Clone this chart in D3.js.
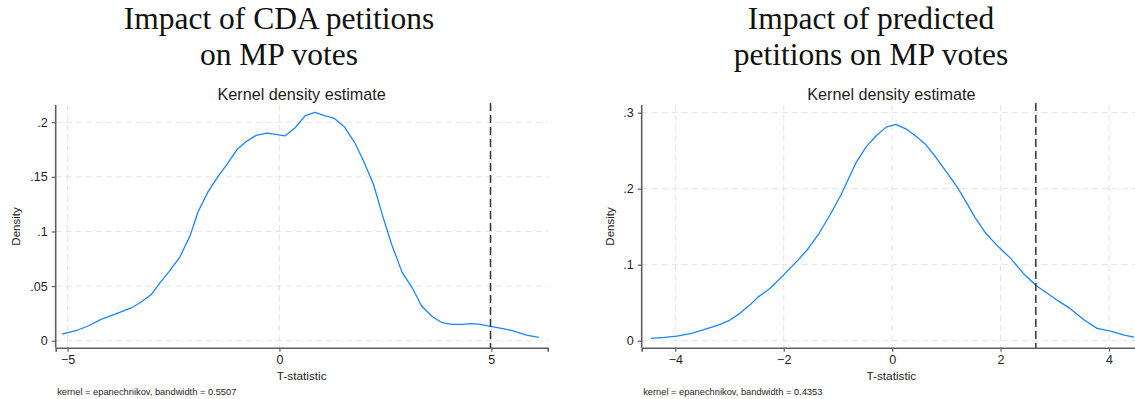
<!DOCTYPE html>
<html>
<head>
<meta charset="utf-8">
<script src="https://cdn.jsdelivr.net/npm/d3@7"></script>
<style>
  html, body { margin: 0; padding: 0; background: #fff; }
  svg { display: block; }
  .sans { font-family: "Liberation Sans", Arial, Helvetica, sans-serif; fill: #1e1e1e; }
  .serif { font-family: "Liberation Serif", "Times New Roman", serif; fill: #111; }
</style>
</head>
<body>
<svg id="chart" width="1135" height="399"></svg>
<script>
// Kernel density of the t-statistics, CDA petitions
const cdaT = [-5.13, -4.76, -4.50, -4.21, -3.83, -3.50, -3.29, -3.03, -2.82, -2.61, -2.36, -2.11, -1.92,
  -1.69, -1.44, -1.23, -0.99, -0.76, -0.55, -0.30, -0.09, 0.13, 0.37, 0.61, 0.84, 1.06, 1.29, 1.53,
  1.78, 1.98, 2.22, 2.43, 2.64, 2.89, 3.14, 3.35, 3.61, 3.84, 4.07, 4.32, 4.53, 4.74, 4.95, 5.24,
  5.50, 5.83, 6.12];
const cdaDensity = [0.0061, 0.0098, 0.0137, 0.0195, 0.0250, 0.0300, 0.0348, 0.0420, 0.0530, 0.0630,
  0.0760, 0.0960, 0.1180, 0.1360, 0.1510, 0.1620, 0.1756, 0.1830, 0.1880, 0.1900, 0.1890, 0.1875,
  0.1950, 0.2060, 0.2090, 0.2060, 0.2037, 0.1960, 0.1810, 0.1650, 0.1430, 0.1150, 0.0890, 0.0630,
  0.0480, 0.0320, 0.0220, 0.0165, 0.0150, 0.0150, 0.0156, 0.0150, 0.0134, 0.0113, 0.0092, 0.0052,
  0.0031];

// Kernel density of the t-statistics, predicted petitions
const predT = [-4.45, -4.20, -3.97, -3.70, -3.40, -3.21, -3.01, -2.81, -2.61, -2.48, -2.25, -2.01,
  -1.75, -1.55, -1.35, -1.15, -0.95, -0.79, -0.66, -0.48, -0.29, -0.11, 0.07, 0.27, 0.44, 0.62,
  0.80, 1.00, 1.20, 1.36, 1.53, 1.73, 1.96, 2.19, 2.42, 2.66, 2.82, 3.05, 3.28, 3.55, 3.78, 4.01,
  4.28, 4.46];
const predDensity = [0.0031, 0.0044, 0.0061, 0.0096, 0.0162, 0.0206, 0.0263, 0.0360, 0.0480, 0.0570,
  0.0690, 0.0860, 0.1050, 0.1210, 0.1410, 0.1650, 0.1910, 0.2155, 0.2350, 0.2550, 0.2700, 0.2810,
  0.2847, 0.2780, 0.2690, 0.2580, 0.2420, 0.2220, 0.2020, 0.1830, 0.1620, 0.1410, 0.1235, 0.1080,
  0.0885, 0.0723, 0.0644, 0.0530, 0.0425, 0.0270, 0.0162, 0.0130, 0.0074, 0.0048];

// Critical values drawn as dashed reference lines
const cdaCritical = 4.98;
const predCritical = 2.65;

// Axis ticks and labels
const cdaXTicks = [-5, 0, 5];
const cdaYTicks = [0, 0.05, 0.1, 0.15, 0.2];
const cdaYLabels = ["0", ".05", ".1", ".15", ".2"];
const predXTicks = [-4, -2, 0, 2, 4];
const predYTicks = [0, 0.1, 0.2, 0.3];
const predYLabels = ["0", ".1", ".2", ".3"];

// Titles and notes
const cdaTitle = ["Impact of CDA petitions", "on MP votes"];
const predTitle = ["Impact of predicted", "petitions on MP votes"];
const plotTitle = "Kernel density estimate";
const xTitle = "T-statistic";
const yTitle = "Density";
const cdaNote = "kernel = epanechnikov, bandwidth = 0.5507";
const predNote = "kernel = epanechnikov, bandwidth = 0.4353";

const panels = [
  {
    t: cdaT, d: cdaDensity, crit: cdaCritical,
    xTicks: cdaXTicks, yTicks: cdaYTicks, yLabels: cdaYLabels,
    title: cdaTitle, note: cdaNote,
    xDomain: [-5.28, 6.33], xRange: [55.7, 547.7],
    yDomain: [-0.0064, 0.2158],
    titleX: 279, yTitleX: 16
  },
  {
    t: predT, d: predDensity, crit: predCritical,
    xTicks: predXTicks, yTicks: predYTicks, yLabels: predYLabels,
    title: predTitle, note: predNote,
    xDomain: [-4.62, 4.59], xRange: [641.7, 1141],
    yDomain: [-0.0092, 0.3101],
    titleX: 871, yTitleX: 609.5
  }
];

const svg = d3.select("#chart");
const plotTop = 105, plotBottom = 347.7;

panels.forEach(p => {
  const x = d3.scaleLinear().domain(p.xDomain).range(p.xRange);
  const y = d3.scaleLinear().domain(p.yDomain).range([plotBottom, plotTop]);
  const g = svg.append("g");
  const [x0, x1] = p.xRange;

  // Headline title in two lines
  p.title.forEach((line, i) => {
    g.append("text").attr("class", "serif")
      .attr("x", p.titleX).attr("y", 28.5 + i * 36.5)
      .attr("text-anchor", "middle")
      .style("font-size", "31.5px")
      .text(line);
  });

  // Gridlines
  g.append("g").selectAll("line").data(p.yTicks).join("line")
    .attr("x1", x0).attr("x2", x1)
    .attr("y1", d => y(d)).attr("y2", d => y(d))
    .attr("stroke", "#e4e4e4").attr("stroke-width", 1)
    .attr("stroke-dasharray", "6,4");
  g.append("g").selectAll("line").data(p.xTicks).join("line")
    .attr("x1", d => x(d)).attr("x2", d => x(d))
    .attr("y1", plotTop).attr("y2", plotBottom)
    .attr("stroke", "#e4e4e4").attr("stroke-width", 1)
    .attr("stroke-dasharray", "6,4");

  // Axes
  const yAxis = d3.axisLeft(y).tickValues(p.yTicks)
    .tickFormat((d, i) => p.yLabels[i]).tickSize(4).tickPadding(4);
  const yg = g.append("g").attr("transform", `translate(${x0},0)`).call(yAxis);
  yg.select(".domain").attr("d", `M0,${plotTop}V${plotBottom}`);

  const xAxis = d3.axisBottom(x).tickValues(p.xTicks)
    .tickFormat(d3.format("d")).tickSize(4).tickPadding(3);
  const xg = g.append("g").attr("transform", `translate(0,${plotBottom})`).call(xAxis);

  [yg, xg].forEach(ax => {
    ax.select(".domain").attr("stroke", "#5f5f5f").attr("stroke-width", 1.6);
    ax.selectAll(".tick line").attr("stroke", "#5f5f5f").attr("stroke-width", 1.2);
    ax.selectAll(".tick text")
      .attr("fill", "#1e1e1e")
      .style("font-family", '"Liberation Sans", Arial, sans-serif')
      .style("font-size", "12.5px");
  });

  // Density curve
  const pts = p.t.map((t, i) => [t, p.d[i]]);
  g.append("path")
    .datum(pts)
    .attr("fill", "none")
    .attr("stroke", "#1a85ff")
    .attr("stroke-width", 1.3)
    .attr("stroke-linejoin", "round")
    .attr("d", d3.line().x(d => x(d[0])).y(d => y(d[1])));

  // Critical value reference line
  g.append("line")
    .attr("x1", x(p.crit)).attr("x2", x(p.crit))
    .attr("y1", plotTop - 2).attr("y2", plotBottom)
    .attr("stroke", "#333").attr("stroke-width", 1.5)
    .attr("stroke-dasharray", "8,4");

  // Plot title, axis titles, note
  const cx = (x0 + x1) / 2;
  g.append("text").attr("class", "sans")
    .attr("x", cx).attr("y", 99.5).attr("text-anchor", "middle")
    .style("font-size", "16.2px").text(plotTitle);
  g.append("text").attr("class", "sans")
    .attr("x", cx).attr("y", 380).attr("text-anchor", "middle")
    .style("font-size", "11.8px").text(xTitle);
  g.append("text").attr("class", "sans")
    .attr("transform", `translate(${p.yTitleX + 4},226.5) rotate(-90)`)
    .attr("text-anchor", "middle")
    .style("font-size", "11.5px").text(yTitle);
  g.append("text").attr("class", "sans")
    .attr("x", x0 + 1.5).attr("y", 394.5)
    .style("font-size", "9.3px").text(p.note);
});
</script>
</body>
</html>
